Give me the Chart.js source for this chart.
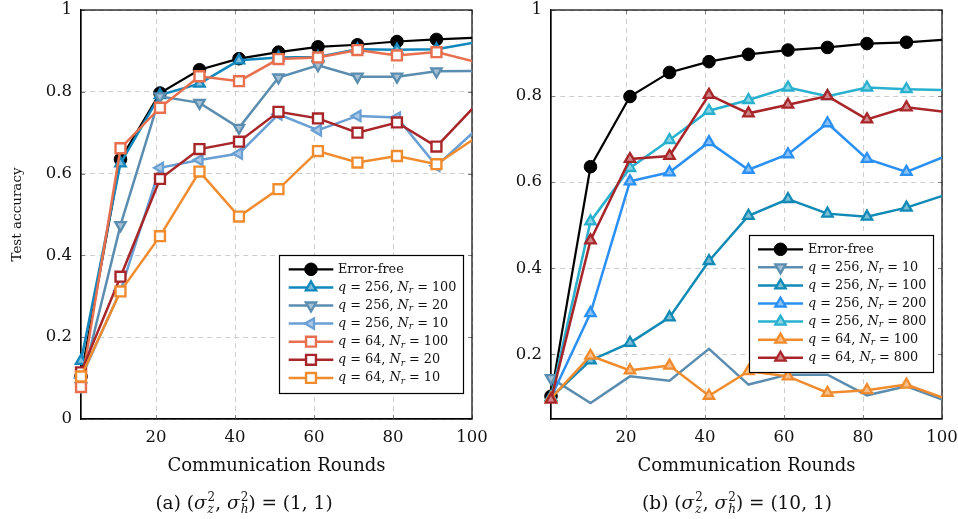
<!DOCTYPE html>
<html><head><meta charset="utf-8">
<script src="https://cdn.jsdelivr.net/npm/chart.js@4.4.1/dist/chart.umd.min.js"></script>
<style>
html,body{margin:0;padding:0;background:#fff;}
#wrap{position:relative;width:958px;height:519px;overflow:hidden;font-family:'DejaVu Serif',serif;color:#111;}
canvas{position:absolute;top:0;}
#cA{left:0;} #cB{left:479px;}
.cap{position:absolute;top:489px;font-size:18.5px;white-space:nowrap;transform:translateX(-50%);line-height:28px;}
.ss{display:inline-flex;flex-direction:column;vertical-align:middle;font-size:12px;line-height:12px;margin-left:1px;position:relative;top:-1px;}
i{font-style:italic;}
</style></head>
<body>
<div id="wrap">
<canvas id="cA" width="510" height="519"></canvas>
<canvas id="cB" width="479" height="519"></canvas>
<div class="cap" style="left:244px">(a) (<i>σ</i><span class="ss"><span>2</span><i>z</i></span>, <i>σ</i><span class="ss"><span>2</span><i>h</i></span>) = (1, 1)</div>
<div class="cap" style="left:737px">(b) (<i>σ</i><span class="ss"><span>2</span><i>z</i></span>, <i>σ</i><span class="ss"><span>2</span><i>h</i></span>) = (10, 1)</div>
</div>
<script>
// ---------------- data ----------------
const rounds = [1, 11, 21, 31, 41, 51, 61, 71, 81, 91, 101];
const xTitle = 'Communication Rounds';
const yTitle = 'Test accuracy';

// panel (a): (sigma_z^2, sigma_h^2) = (1,1)
const a_labels = ['Error-free', 'q = 256, N_r = 100', 'q = 256, N_r = 20', 'q = 256, N_r = 10', 'q = 64, N_r = 100', 'q = 64, N_r = 20', 'q = 64, N_r = 10'];
const a_errorFree = [0.104, 0.635, 0.797, 0.854, 0.881, 0.897, 0.910, 0.915, 0.923, 0.928, 0.932];
const a_q256_N100 = [0.142, 0.625, 0.792, 0.820, 0.877, 0.884, 0.885, 0.904, 0.903, 0.904, 0.921];
const a_q256_N20  = [0.080, 0.474, 0.789, 0.773, 0.712, 0.835, 0.865, 0.837, 0.837, 0.850, 0.851];
const a_q256_N10  = [0.100, 0.314, 0.614, 0.633, 0.649, 0.745, 0.706, 0.741, 0.737, 0.619, 0.707];
const a_q64_N100  = [0.078, 0.662, 0.761, 0.838, 0.826, 0.880, 0.884, 0.902, 0.889, 0.897, 0.873];
const a_q64_N20   = [0.114, 0.348, 0.587, 0.660, 0.678, 0.751, 0.735, 0.700, 0.725, 0.666, 0.768];
const a_q64_N10   = [0.104, 0.312, 0.447, 0.605, 0.495, 0.562, 0.655, 0.627, 0.643, 0.623, 0.688];

// panel (b): (sigma_z^2, sigma_h^2) = (10,1)
const b_labels = ['Error-free', 'q = 256, N_r = 10', 'q = 256, N_r = 100', 'q = 256, N_r = 200', 'q = 256, N_r = 800', 'q = 64, N_r = 100', 'q = 64, N_r = 800'];
const b_errorFree = [0.103, 0.636, 0.799, 0.855, 0.880, 0.897, 0.907, 0.913, 0.922, 0.925, 0.931];
const b_q256_N10  = [0.145, 0.087, 0.149, 0.139, 0.213, 0.130, 0.153, 0.153, 0.105, 0.126, 0.092];
const b_q256_N100 = [0.100, 0.186, 0.227, 0.286, 0.417, 0.522, 0.561, 0.527, 0.520, 0.541, 0.571];
const b_q256_N200 = [0.100, 0.296, 0.602, 0.623, 0.693, 0.629, 0.665, 0.737, 0.654, 0.624, 0.661];
const b_q256_N800 = [0.100, 0.509, 0.633, 0.698, 0.766, 0.791, 0.820, 0.800, 0.820, 0.816, 0.814];
const b_q64_N100  = [0.098, 0.197, 0.163, 0.174, 0.104, 0.161, 0.149, 0.111, 0.117, 0.130, 0.097];
const b_q64_N800  = [0.095, 0.465, 0.654, 0.661, 0.803, 0.760, 0.780, 0.800, 0.746, 0.774, 0.763];

// ---------------- styles ----------------
const FONT = "'DejaVu Serif', serif";
const C = {
  black: '#000000', teal: '#1287bd', steel: '#5b8db0', lightblue: '#6a9fd4',
  salmon: '#e8704f', darkred: '#a8262a', orange: '#f08c2e',
  teal2: '#118ab6', blue2: '#2b90f3', cyan2: '#29b0cf'
};
function tint(hex, f) {
  const n = parseInt(hex.slice(1), 16);
  const r = (n >> 16) & 255, g = (n >> 8) & 255, b = n & 255;
  const m = v => Math.round(v + (255 - v) * f);
  return `rgb(${m(r)},${m(g)},${m(b)})`;
}
const M = {
  circle: {style: 'circle', rot: 0, r: 6.3, bw: 1, fill: null},
  up: {style: 'triangle', rot: 0, r: 6, bw: 2.3, fill: 'tint'},
  down: {style: 'triangle', rot: 180, r: 6, bw: 2.3, fill: 'tint'},
  left: {style: 'triangle', rot: 270, r: 6, bw: 2.3, fill: 'tint'},
  square: {style: 'rect', rot: 0, r: 7, bw: 2.4, fill: '#ffffff'}
};

function ds(label, data, color, mk, lw, onlyFirst) {
  const fill = mk.fill === null ? color : (mk.fill === 'tint' ? tint(color, 0.45) : mk.fill);
  const last = data.length - 1;
  return {
    label, data: rounds.map((x, i) => ({x, y: data[i]})),
    borderColor: color, borderWidth: lw, tension: 0, fill: false,
    pointStyle: mk.style, pointRotation: mk.rot,
    pointRadius: ctx => (onlyFirst ? (ctx.dataIndex === 0 ? mk.r : 0) : (ctx.dataIndex === last ? 0 : mk.r)),
    pointBackgroundColor: fill, pointBorderColor: color, pointBorderWidth: mk.bw,
    clip: {left: false, top: false, bottom: false, right: 0},
    _mk: mk, _fill: fill
  };
}

function drawMarker(ctx, mk, x, y, fill, stroke) {
  ctx.save();
  ctx.translate(x, y);
  ctx.rotate(mk.rot * Math.PI / 180);
  ctx.beginPath();
  if (mk.style === 'circle') ctx.arc(0, 0, mk.r, 0, Math.PI * 2);
  else if (mk.style === 'triangle') {
    for (let k = 0; k < 3; k++) {
      const a = k * 2 * Math.PI / 3;
      const px = Math.sin(a) * mk.r, py = -Math.cos(a) * mk.r;
      k === 0 ? ctx.moveTo(px, py) : ctx.lineTo(px, py);
    }
  } else {
    const s = mk.r * Math.SQRT1_2;
    ctx.rect(-s, -s, 2 * s, 2 * s);
  }
  ctx.closePath();
  ctx.fillStyle = fill; ctx.fill();
  if (mk.bw > 0) { ctx.lineWidth = mk.bw; ctx.strokeStyle = stroke; ctx.lineJoin = 'miter'; ctx.stroke(); }
  ctx.restore();
}

function parseLabel(s) {
  if (!s.includes('=')) return [{t: s, it: false, sub: false}];
  const runs = [];
  for (let i = 0; i < s.length; i++) {
    const c = s[i];
    if (c === '_') { runs.push({t: s[i + 1], it: true, sub: true}); i++; continue; }
    runs.push({t: c, it: /[A-Za-z]/.test(c), sub: false});
  }
  return runs;
}

const framePlugin = {
  id: 'frame',
  beforeDatasetsDraw(chart) {
    const {ctx, chartArea: a, scales} = chart;
    ctx.save();
    ctx.strokeStyle = '#808080'; ctx.lineWidth = 1;
    ctx.beginPath();
    scales.x.ticks.forEach(t => {
      const px = Math.round(scales.x.getPixelForValue(t.value)) + 0.5;
      ctx.moveTo(px, a.bottom); ctx.lineTo(px, a.bottom - 4);
      ctx.moveTo(px, a.top); ctx.lineTo(px, a.top + 4);
    });
    scales.y.ticks.forEach(t => {
      const py = Math.round(scales.y.getPixelForValue(t.value)) + 0.5;
      ctx.moveTo(a.left, py); ctx.lineTo(a.left + 4, py);
      ctx.moveTo(a.right, py); ctx.lineTo(a.right - 4, py);
    });
    ctx.stroke();
    ctx.strokeStyle = '#000'; ctx.lineWidth = 1.2;
    ctx.strokeRect(a.left, a.top, a.right - a.left, a.bottom - a.top);
    ctx.restore();
  },
  afterDatasetsDraw(chart, args, opts) {
    const L = opts.legend; if (!L) return;
    const ctx = chart.ctx;
    ctx.save();
    ctx.fillStyle = '#fff';
    ctx.fillRect(L.x, L.y, L.w, L.h);
    ctx.strokeStyle = '#000'; ctx.lineWidth = 1.2;
    ctx.strokeRect(L.x, L.y, L.w, L.h);
    chart.data.datasets.forEach((d, i) => {
      const y = L.row0 + i * L.dy;
      ctx.beginPath(); ctx.strokeStyle = d.borderColor; ctx.lineWidth = d.borderWidth;
      ctx.moveTo(L.x0, y); ctx.lineTo(L.x1, y); ctx.stroke();
      drawMarker(ctx, d._mk, (L.x0 + L.x1) / 2, y, d._fill, d.borderColor);
      let tx = L.tx;
      ctx.fillStyle = '#111'; ctx.textBaseline = 'middle'; ctx.textAlign = 'left';
      parseLabel(d.label).forEach(r => {
        const size = r.sub ? 9 : 12.8;
        ctx.font = `${r.it ? 'italic ' : ''}${size}px ${FONT}`;
        ctx.fillText(r.t, tx, y + (r.sub ? 3.5 : 0));
        tx += ctx.measureText(r.t).width;
      });
    });
    ctx.restore();
  }
};

const tickFmt = v => String(Math.round(v * 10) / 10);

function makeChart(id, datasets, cfg) {
  return new Chart(document.getElementById(id), {
    type: 'line',
    data: {datasets: datasets.map((d, i) => Object.assign(d, {order: datasets.length - i}))},
    plugins: [framePlugin],
    options: {
      responsive: false, animation: false, events: [],
      layout: {padding: {left: 0, top: 10, right: cfg.padRight, bottom: 0}},
      plugins: {legend: {display: false}, tooltip: {enabled: false}, frame: {legend: cfg.legend}},
      scales: {
        x: {
          type: 'linear', min: 1, max: 100,
          ticks: {stepSize: 20, includeBounds: false, padding: 9, color: '#111', font: {family: FONT, size: 16.5}, maxRotation: 0, callback: tickFmt},
          grid: {color: '#cfcfcf', lineWidth: 1, drawTicks: false, tickLength: 0},
          border: {display: true, color: '#000', width: 1.2, dash: [5, 4]},
          title: {display: true, text: xTitle, color: '#111', font: {family: FONT, size: 18}, padding: {top: 0, bottom: 42}},
          afterFit: s => { s.height = 100; s.paddingLeft = 0; s.paddingRight = 0; }
        },
        y: {
          type: 'linear', min: cfg.ymin, max: 1,
          ticks: {stepSize: 0.2, includeBounds: false, padding: 9, color: '#111', font: {family: FONT, size: 16.5}, callback: tickFmt},
          grid: {color: '#cfcfcf', lineWidth: 1, drawTicks: false, tickLength: 0},
          border: {display: true, color: '#000', width: 1.2, dash: [5, 4]},
          title: {display: cfg.yTitle, text: yTitle, color: '#111', font: {family: FONT, size: 13.5}, padding: {top: 9.5, bottom: 0}},
          afterFit: s => { s.width = cfg.yWidth; s.paddingTop = 0; s.paddingBottom = 0; }
        }
      }
    }
  });
}

const dsA = [
  ds(a_labels[0], a_errorFree, C.black, M.circle, 2.2),
  ds(a_labels[1], a_q256_N100, C.teal, M.up, 2.5),
  ds(a_labels[2], a_q256_N20, C.steel, M.down, 2.5),
  ds(a_labels[3], a_q256_N10, C.lightblue, M.left, 2.5),
  ds(a_labels[4], a_q64_N100, C.salmon, M.square, 2.5),
  ds(a_labels[5], a_q64_N20, C.darkred, M.square, 2.5),
  ds(a_labels[6], a_q64_N10, C.orange, M.square, 2.5)
];
const dsB = [
  ds(b_labels[0], b_errorFree, C.black, M.circle, 2.2),
  ds(b_labels[1], b_q256_N10, C.steel, M.down, 2.5, true),
  ds(b_labels[2], b_q256_N100, C.teal2, M.up, 2.5),
  ds(b_labels[3], b_q256_N200, C.blue2, M.up, 2.5),
  ds(b_labels[4], b_q256_N800, C.cyan2, M.up, 2.5),
  ds(b_labels[5], b_q64_N100, C.orange, M.up, 2.5),
  ds(b_labels[6], b_q64_N800, C.darkred, M.up, 2.5)
];

makeChart('cA', dsA, {
  padRight: 510 - 472, ymin: 0, yTitle: true, yWidth: 81,
  legend: {x: 279.5, y: 255.5, w: 184, h: 138, row0: 269.3, dy: 18.1, x0: 288.7, x1: 333.3, tx: 338}
});
makeChart('cB', dsB, {
  padRight: 479 - 463, ymin: 0.05, yTitle: false, yWidth: 72,
  legend: {x: 270.5, y: 235.5, w: 184, h: 137, row0: 249.3, dy: 18.07, x0: 279, x1: 324, tx: 329}
});
</script>
</body></html>
